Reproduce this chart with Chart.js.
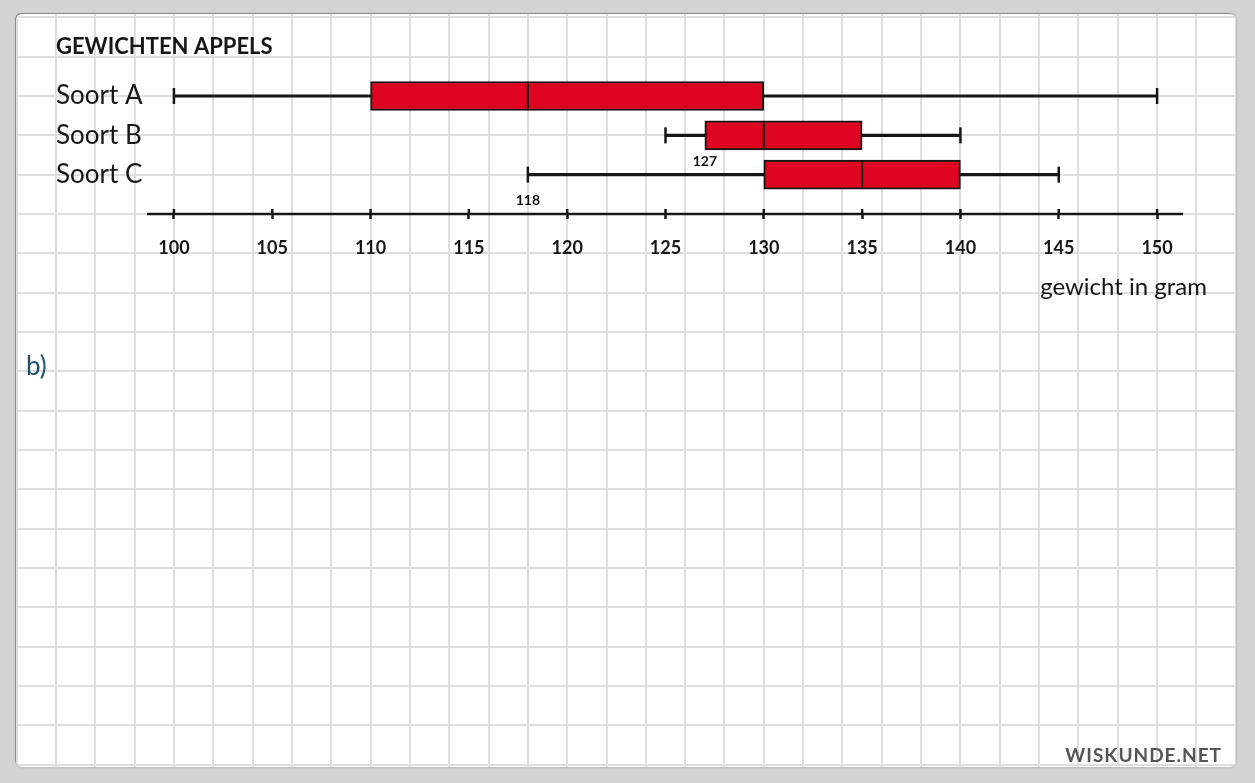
<!DOCTYPE html>
<html>
<head>
<meta charset="utf-8">
<title>Gewichten appels</title>
<script src="https://cdn.jsdelivr.net/npm/chart.js@4.4.1/dist/chart.umd.min.js"></script>
<style>
    html, body {
        margin: 0;
        padding: 0;
        width: 1255px;
        height: 783px;
        overflow: hidden;
        background: #d4d4d4;
    }
    #board {
        position: absolute;
        left: 16px;
        top: 14px;
        width: 1220px;
        height: 753px;
        background: #ffffff;
        border-radius: 6px;
        box-shadow: -1px -1px 0 #8c8c8c, 0 0 3px rgba(0, 0, 0, 0.25);
        overflow: hidden;
    }
    #boxChart {
        position: absolute;
        left: 0;
        top: 0;
    }
    #partLabel {
        position: absolute;
        left: 10px;
        top: 338px;
        font: 26px Lato, "Noto Sans", sans-serif;
        line-height: 26px;
        color: #1d4f6e;
    }
    #brand {
        position: absolute;
        right: 14px;
        top: 730px;
        font: bold 19px Lato, "Noto Sans", sans-serif;
        line-height: 22px;
        letter-spacing: 1px;
        color: #555555;
    }
</style>
</head>
<body>
<div id="board">
    <canvas id="boxChart" width="1220" height="753"></canvas>
    <div id="partLabel">b)</div>
    <div id="brand">WISKUNDE.NET</div>
</div>

<script>
// data
const categories = ['Soort A', 'Soort B', 'Soort C'];
const minima   = [100, 125, 118];
const q1s      = [110, 127, 130];
const medians  = [118, 130, 135];
const q3s      = [130, 135, 140];
const maxima   = [150, 140, 145];

const xTicksFrom = 100;
const xTicksTo = 150;
const xTickStep = 5;

// small numbers written next to the plots
const noteSeries = ['Soort B', 'Soort C'];
const noteValues = [127, 118];

const INK = '#161616';
const BOX_RED = '#df0420';
const BOX_THICKNESS = 29;

// squared paper, lined up with the chart's own scales
const paperGrid = {
    id: 'paperGrid',
    beforeDraw(chart) {
        const { ctx, width, height } = chart;
        const x = chart.scales.x;
        const y = chart.scales.y;
        ctx.save();
        ctx.strokeStyle = '#dedee1';
        ctx.lineWidth = 2;
        ctx.beginPath();
        const xStart = Math.ceil(x.getValueForPixel(0) / 2) * 2;
        const xEnd = x.getValueForPixel(width);
        for (let v = xStart; v <= xEnd; v += 2) {
            const px = Math.round(x.getPixelForValue(v));
            ctx.moveTo(px, 0);
            ctx.lineTo(px, height);
        }
        const ya = y.getValueForPixel(0);
        const yb = y.getValueForPixel(height);
        for (let v = Math.ceil(Math.min(ya, yb)); v <= Math.max(ya, yb); v++) {
            const py = Math.round(y.getPixelForValue(v));
            ctx.moveTo(0, py);
            ctx.lineTo(width, py);
        }
        ctx.stroke();
        ctx.restore();
    }
};

// medians and whisker caps
const boxParts = {
    id: 'boxParts',
    afterDatasetsDraw(chart) {
        const { ctx } = chart;
        const x = chart.scales.x;
        const y = chart.scales.y;
        ctx.save();
        ctx.strokeStyle = INK;
        categories.forEach((cat, i) => {
            const py = y.getPixelForValue(i + 1);
            ctx.lineWidth = 2;
            const pm = x.getPixelForValue(medians[i]);
            ctx.beginPath();
            ctx.moveTo(pm, py - BOX_THICKNESS / 2);
            ctx.lineTo(pm, py + BOX_THICKNESS / 2);
            ctx.stroke();
            ctx.lineWidth = 2.5;
            [minima[i], maxima[i]].forEach(v => {
                const pv = x.getPixelForValue(v);
                ctx.beginPath();
                ctx.moveTo(pv, py - 8);
                ctx.lineTo(pv, py + 8);
                ctx.stroke();
            });
        });
        ctx.restore();
    },
    afterDraw(chart) {
        const { ctx } = chart;
        const x = chart.scales.x;
        const y = chart.scales.y;
        const axisY = chart.chartArea.bottom;
        ctx.save();
        // axis line, a little past the first and last tick
        ctx.strokeStyle = INK;
        ctx.lineWidth = 2.5;
        ctx.beginPath();
        ctx.moveTo(x.getPixelForValue(xTicksFrom - 1.37), axisY);
        ctx.lineTo(x.getPixelForValue(xTicksTo + 1.32), axisY);
        ctx.stroke();
        // upper half of the tick marks
        ctx.beginPath();
        x.ticks.forEach(t => {
            const px = x.getPixelForValue(t.value);
            ctx.moveTo(px, axisY - 5);
            ctx.lineTo(px, axisY);
        });
        ctx.stroke();
        // notes
        ctx.fillStyle = INK;
        ctx.font = 'bold 14px Lato, "Noto Sans", sans-serif';
        ctx.textAlign = 'center';
        ctx.textBaseline = 'middle';
        noteSeries.forEach((s, i) => {
            const row = categories.indexOf(s) + 1;
            ctx.fillText(String(noteValues[i]), x.getPixelForValue(noteValues[i]), y.getPixelForValue(row + 0.66));
        });
        ctx.restore();
    }
};

const rows = categories.map((c, i) => i + 1);

new Chart(document.getElementById('boxChart'), {
    type: 'bar',
    data: {
        datasets: [
            {
                label: 'box',
                data: rows.map((r, i) => ({ x: [q1s[i], q3s[i]], y: r })),
                backgroundColor: BOX_RED,
                borderColor: INK,
                borderWidth: 2,
                borderSkipped: false,
                barThickness: BOX_THICKNESS,
                grouped: false
            },
            {
                label: 'whisker',
                data: rows.map((r, i) => ({ x: [minima[i], maxima[i]], y: r })),
                backgroundColor: INK,
                borderWidth: 0,
                barThickness: 2.5,
                grouped: false
            }
        ]
    },
    options: {
        indexAxis: 'y',
        responsive: false,
        animation: false,
        events: [],
        layout: {
            padding: { left: 40, right: 29, top: 0, bottom: 465 }
        },
        scales: {
            x: {
                type: 'linear',
                position: 'bottom',
                min: 98.63,
                max: 152.54,
                offset: false,
                beginAtZero: false,
                border: { display: false },
                grid: {
                    drawOnChartArea: false,
                    drawTicks: true,
                    tickLength: 5,
                    tickWidth: 2.5,
                    tickColor: INK
                },
                ticks: {
                    stepSize: xTickStep,
                    includeBounds: false,
                    autoSkip: false,
                    maxRotation: 0,
                    padding: 18,
                    color: INK,
                    font: { family: 'Lato, "Noto Sans", sans-serif', size: 18, weight: 'bold' }
                },
                title: {
                    display: true,
                    text: 'gewicht in gram',
                    align: 'end',
                    padding: { top: 0, bottom: 0 },
                    color: INK,
                    font: { family: 'Lato, "Noto Sans", sans-serif', size: 24 }
                },
                afterFit: scale => { scale.height = 88; }
            },
            y: {
                type: 'linear',
                reverse: true,
                min: 0.5,
                max: 4,
                offset: false,
                border: { display: false },
                grid: { display: false },
                ticks: {
                    autoSkip: false,
                    crossAlign: 'far',
                    color: INK,
                    font: { family: 'Lato, "Noto Sans", sans-serif', size: 26 },
                    callback: v => categories[v - 1] || ''
                },
                // one tick per apple variety
                afterBuildTicks: scale => { scale.ticks = rows.map(r => ({ value: r })); },
                afterFit: scale => { scale.width = 91; }
            }
        },
        plugins: {
            legend: { display: false },
            tooltip: { enabled: false },
            title: {
                display: true,
                text: 'GEWICHTEN APPELS',
                align: 'start',
                color: INK,
                padding: { top: 19.8, bottom: 16.15 },
                font: { family: 'Lato, "Noto Sans", sans-serif', size: 22, weight: 'bold' }
            }
        }
    },
    plugins: [paperGrid, boxParts]
});
</script>
</body>
</html>
